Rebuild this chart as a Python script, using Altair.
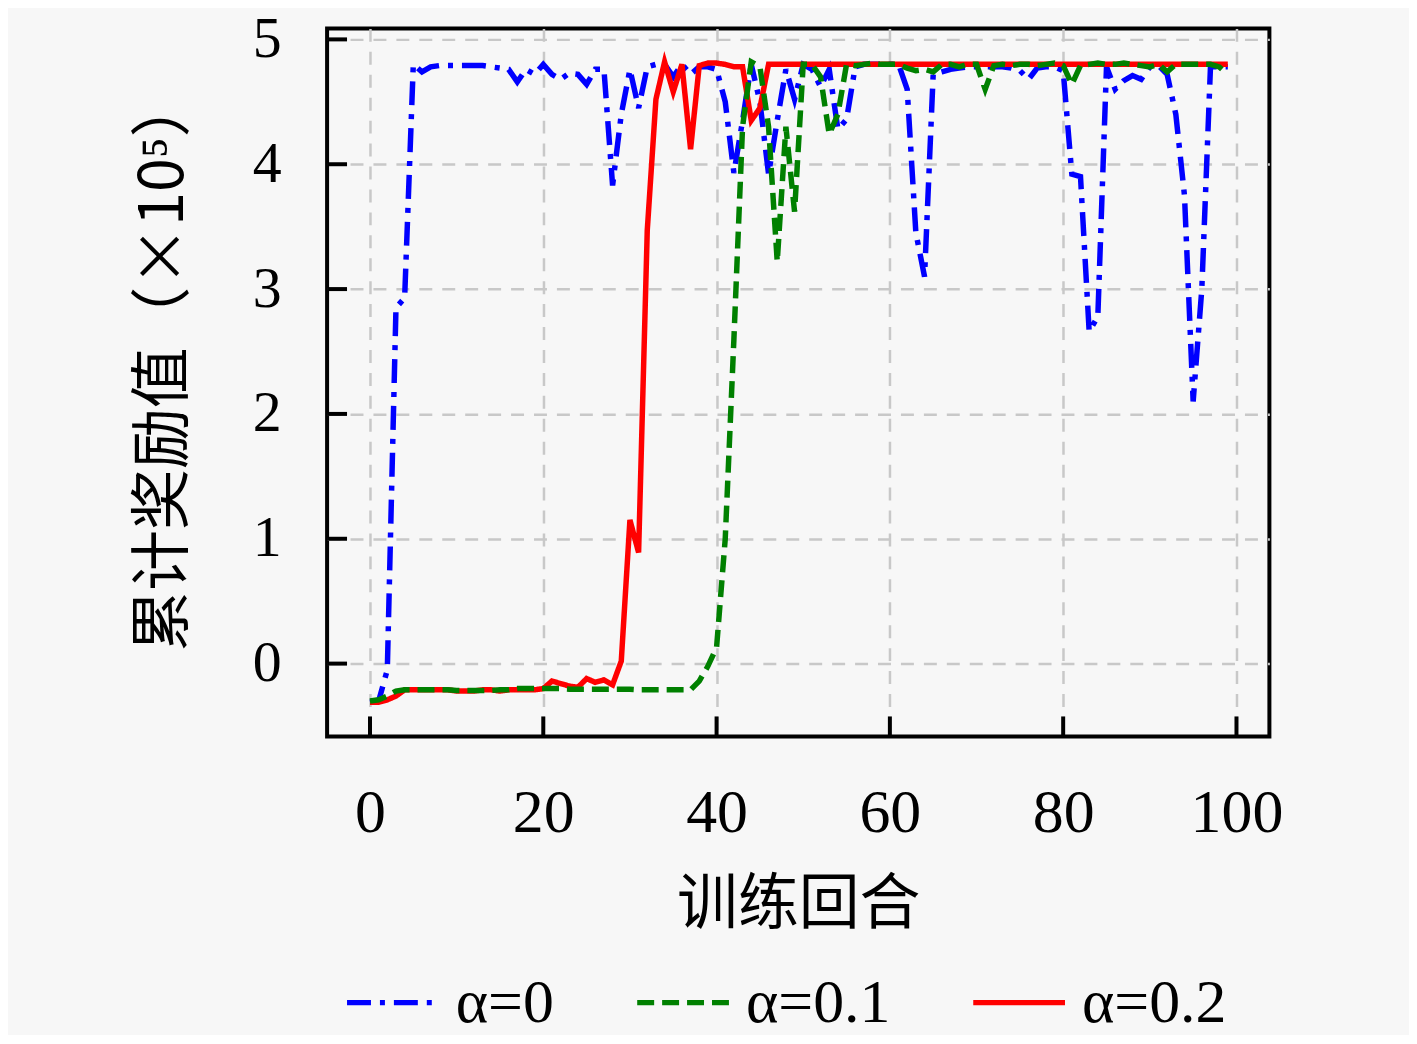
import altair as alt
import pandas as pd

episodes = list(range(100))

reward_a0 = [
    -0.31, -0.30, -0.05, 2.85, 2.93, 4.80, 4.74, 4.78, 4.79, 4.79,
    4.79, 4.79, 4.79, 4.79, 4.78, 4.77, 4.76, 4.66, 4.76, 4.72,
    4.80, 4.72, 4.68, 4.73, 4.72, 4.64, 4.76, 4.76, 3.83, 4.40,
    4.76, 4.45, 4.78, 4.80, 4.80, 4.70, 4.80, 4.72, 4.78, 4.78,
    4.76, 4.50, 3.93, 4.35, 4.80, 4.50, 3.92, 4.35, 4.76, 4.52,
    4.80, 4.76, 4.62, 4.76, 4.28, 4.36, 4.78, 4.80, 4.80, 4.80,
    4.80, 4.80, 4.60, 3.45, 3.10, 4.72, 4.74, 4.76, 4.77, 4.78,
    4.78, 4.78, 4.78, 4.78, 4.77, 4.75, 4.68, 4.77, 4.78, 4.78,
    4.75, 3.92, 3.90, 2.66, 2.78, 4.78, 4.60, 4.67, 4.71, 4.68,
    4.78, 4.79, 4.72, 4.40, 3.75, 2.10, 3.00, 4.78, 4.78, 4.78,
]

reward_a01 = [
    -0.30, -0.29, -0.26, -0.22, -0.21, -0.21, -0.21, -0.21, -0.21, -0.21,
    -0.215, -0.215, -0.215, -0.215, -0.215, -0.21, -0.21, -0.20, -0.20, -0.20,
    -0.20, -0.20, -0.20, -0.205, -0.205, -0.205, -0.205, -0.205, -0.205, -0.205,
    -0.205, -0.21, -0.21, -0.21, -0.21, -0.21, -0.21, -0.21, -0.14, -0.02,
    0.13, 1.00, 2.60, 4.30, 4.82, 4.78, 4.30, 3.22, 4.30, 3.62,
    4.80, 4.80, 4.70, 4.24, 4.40, 4.80, 4.79, 4.80, 4.81, 4.80,
    4.80, 4.80, 4.77, 4.75, 4.76, 4.74, 4.80, 4.80, 4.78, 4.80,
    4.80, 4.60, 4.79, 4.80, 4.79, 4.80, 4.80, 4.79, 4.80, 4.81,
    4.79, 4.64, 4.79, 4.80, 4.81, 4.80, 4.80, 4.81, 4.80, 4.79,
    4.78, 4.80, 4.74, 4.80, 4.80, 4.80, 4.80, 4.80, 4.78, 4.72,
]

reward_a02 = [
    -0.31, -0.31, -0.29, -0.26, -0.21, -0.21, -0.21, -0.21, -0.21, -0.21,
    -0.22, -0.22, -0.22, -0.21, -0.21, -0.22, -0.21, -0.21, -0.21, -0.21,
    -0.20, -0.14, -0.16, -0.18, -0.19, -0.12, -0.15, -0.13, -0.17, 0.02,
    1.15, 0.89, 3.47, 4.52, 4.82, 4.58, 4.80, 4.12, 4.79, 4.81,
    4.81, 4.80, 4.78, 4.78, 4.35, 4.45, 4.80, 4.80, 4.80, 4.80,
    4.80, 4.80, 4.80, 4.80, 4.80, 4.80, 4.80, 4.80, 4.80, 4.80,
    4.80, 4.80, 4.80, 4.80, 4.80, 4.80, 4.80, 4.80, 4.80, 4.80,
    4.80, 4.80, 4.80, 4.80, 4.80, 4.80, 4.80, 4.80, 4.80, 4.80,
    4.80, 4.80, 4.80, 4.80, 4.80, 4.80, 4.80, 4.80, 4.80, 4.80,
    4.80, 4.80, 4.80, 4.80, 4.80, 4.80, 4.80, 4.80, 4.80, 4.80,
]

series_names = ["α=0", "α=0.1", "α=0.2"]
series_colors = ["#0000ff", "#008000", "#ff0000"]
series_dashes = [[24, 9, 5, 9], [17, 8], [1, 0]]
draw_order = ["α=0", "α=0.2", "α=0.1"]

x_ticks = [0, 20, 40, 60, 80, 100]
y_ticks = [0, 1, 2, 3, 4, 5]

x_title = "训练回合"
y_title = "累计奖励值（×10⁵）"

rows = []
for name, vals in zip(series_names, [reward_a0, reward_a01, reward_a02]):
    for e, v in zip(episodes, vals):
        rows.append({"episode": e, "reward": v, "series": name})
df = pd.DataFrame(rows)

W, H = 945, 710
NUM_FONT = "Liberation Serif"
CJK_FONT = "Noto Sans CJK SC"

xscale = alt.Scale(domain=[-4.95, 103.8], nice=False, zero=False)
yscale = alt.Scale(domain=[-0.583, 5.088], nice=False, zero=False)
color_scale = alt.Scale(domain=series_names, range=series_colors)
dash_scale = alt.Scale(domain=series_names, range=series_dashes)

xaxis = alt.Axis(values=x_ticks, title=x_title, format="d", labelPadding=46,
                 labelFontSize=62, titleY=170, titleBaseline="middle")
yaxis = alt.Axis(values=y_ticks, title=y_title, format="d", labelPadding=46,
                 labelFontSize=58,
                 titleX=-163, titleY=336, titleAngle=270, titleAlign="center",
                 titleBaseline="middle")

legend = alt.Legend(title=None)


def line_layer(name):
    return (
        alt.Chart(df)
        .transform_filter(alt.datum.series == name)
        .mark_line(strokeWidth=5.5, clip=True)
        .encode(
            x=alt.X("episode:Q", scale=xscale, axis=xaxis),
            y=alt.Y("reward:Q", scale=yscale, axis=yaxis),
            color=alt.Color("series:N", scale=color_scale, legend=legend),
            strokeDash=alt.StrokeDash("series:N", scale=dash_scale, legend=legend),
        )
    )


ytick_df = pd.DataFrame({"v": y_ticks})
xtick_df = pd.DataFrame({"v": x_ticks})

ytick_layer = alt.Chart(ytick_df).mark_rule(color="black", strokeWidth=4).encode(
    y=alt.Y("v:Q", scale=yscale, axis=yaxis),
    x=alt.value(0),
    x2=alt.value(20),
)
xtick_layer = alt.Chart(xtick_df).mark_rule(color="black", strokeWidth=4).encode(
    x=alt.X("v:Q", scale=xscale, axis=xaxis),
    y=alt.value(H),
    y2=alt.value(H - 20),
)

chart = (
    alt.layer(*[line_layer(n) for n in draw_order], ytick_layer, xtick_layer)
    .properties(
        width=W,
        height=H,
        padding={"left": 320, "top": 19, "right": 140, "bottom": 298},
        autosize=alt.AutoSizeParams(type="none"),
        background="#f7f7f7",
    )
    .configure_view(stroke="black", strokeWidth=4, fill="#f7f7f7")
    .configure_axis(
        ticks=False,
        domain=False,
        grid=True,
        gridColor="#c8c8c8",
        gridDash=[13, 10],
        gridWidth=2.5,
        labelFont=NUM_FONT,
        labelColor="black",
        titleFont=CJK_FONT,
        titleFontSize=61,
        titleFontWeight="normal",
        titleColor="black",
    )
    .configure_legend(
        orient="none",
        legendX=17,
        legendY=928,
        direction="horizontal",
        columns=3,
        symbolType="stroke",
        symbolSize=8464,
        symbolStrokeWidth=5.5,
        labelFont=NUM_FONT,
        labelFontSize=62,
        labelColor="black",
        labelOffset=14,
        columnPadding=72,
        labelLimit=400,
    )
)

chart.save("out.html", embed_options={"renderer": "svg", "actions": False})
